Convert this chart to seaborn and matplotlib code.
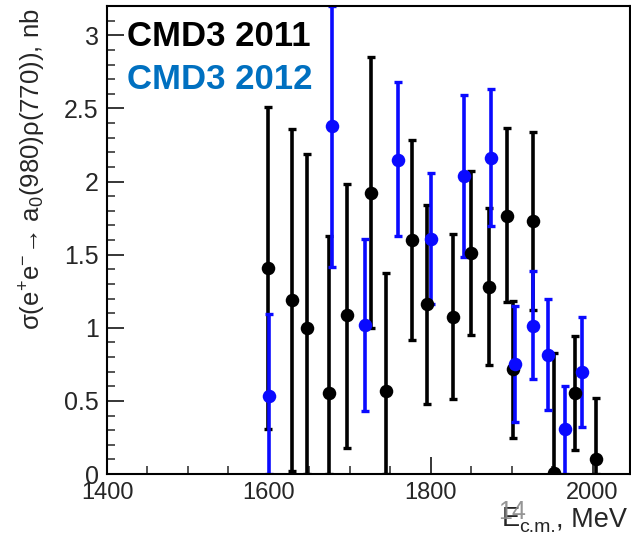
import numpy as np
import pandas as pd
import seaborn as sns
import matplotlib
matplotlib.use("Agg")
import matplotlib.pyplot as plt
from matplotlib.ticker import MultipleLocator

# ---------------- data ----------------
e2011 = [1599, 1629, 1647, 1674, 1697, 1726, 1745, 1777, 1795, 1828, 1850,
         1872, 1894, 1902, 1927, 1953, 1978, 2004]
s2011 = [1.41, 1.19, 1.00, 0.555, 1.086, 1.924, 0.567, 1.60, 1.16, 1.075, 1.51,
         1.28, 1.765, 0.715, 1.73, 0.005, 0.551, 0.102]
hi2011 = [2.51, 2.36, 2.19, 1.63, 1.985, 2.85, 1.375, 2.286, 1.84, 1.644, 2.07,
          1.82, 2.365, 1.184, 2.34, 0.83, 0.943, 0.52]
lo2011 = [0.31, 0.02, 0.0, 0.0, 0.18, 1.0, 0.0, 0.915, 0.478, 0.51, 0.95,
          0.745, 1.173, 0.248, 1.12, 0.0, 0.164, 0.0]

e2012 = [1600, 1678, 1719, 1760, 1800, 1841, 1875, 1904, 1926, 1945, 1966, 1987]
s2012 = [0.535, 2.377, 1.022, 2.15, 1.61, 2.035, 2.163, 0.751, 1.013, 0.813, 0.305, 0.699]
hi2012 = [1.097, 3.2, 1.61, 2.68, 2.06, 2.59, 2.635, 1.148, 1.387, 1.195, 0.601, 1.075]
lo2012 = [0.0, 1.416, 0.432, 1.628, 1.16, 1.485, 1.696, 0.357, 0.649, 0.437, 0.0, 0.323]

series_labels = ["CMD3 2011", "CMD3 2012"]
xlabel_main, xlabel_sub, xlabel_unit = "E", "c.m.", ", MeV"
ylabel = r"σ(e$^{+}$e$^{-}$→ a$_{0}$(980)ρ(770)), nb"
page_no = "14"

# ---------------- style ----------------
sns.set_style("ticks")
plt.rcParams["font.family"] = ["Liberation Sans", "DejaVu Sans"]
plt.rcParams["mathtext.fontset"] = "custom"
plt.rcParams["mathtext.rm"] = "Liberation Sans"
plt.rcParams["mathtext.it"] = "Liberation Sans:italic"
plt.rcParams["mathtext.bf"] = "Liberation Sans:bold"

black = "#000000"
blue = "#0a0aff"
legend_blue = "#0070c0"

W, H = 631, 537
fig = plt.figure(figsize=(W / 100, H / 100), dpi=100)
ax = fig.add_axes([0.1696, 0.1173, 0.8284, 0.8715])

d11 = pd.DataFrame({"E": e2011, "s": s2011, "hi": hi2011, "lo": lo2011})
d12 = pd.DataFrame({"E": e2012, "s": s2012, "hi": hi2012, "lo": lo2012})

for d, col in [(d11, black), (d12, blue)]:
    yerr = np.vstack([d["s"] - d["lo"], d["hi"] - d["s"]])
    ax.errorbar(d["E"], d["s"], yerr=yerr, fmt="none", ecolor=col,
                elinewidth=2.6, capsize=2.8, capthick=2.4, zorder=2)
    sns.scatterplot(data=d, x="E", y="s", ax=ax, color=col, s=95,
                    edgecolor=col, linewidth=0, zorder=3, legend=False)

ax.set_xlim(1400, 2046)
ax.set_ylim(0, 3.2)
ax.xaxis.set_major_locator(MultipleLocator(200))
ax.xaxis.set_minor_locator(MultipleLocator(50))
ax.yaxis.set_major_locator(MultipleLocator(0.5))
ax.yaxis.set_minor_locator(MultipleLocator(0.1))
ax.yaxis.set_major_formatter(matplotlib.ticker.FuncFormatter(
    lambda v, p: f"{v:g}"))

ax.tick_params(which="major", direction="in", length=12, width=1.3, top=False, right=False)
ax.tick_params(which="minor", direction="in", length=6, width=1.1, top=False, right=False)
ax.tick_params(axis="x", which="major", labelsize=17, pad=6)
ax.tick_params(axis="y", which="major", labelsize=18, pad=6)
for sp in ax.spines.values():
    sp.set_visible(True)
    sp.set_linewidth(1.5)
    sp.set_color("black")

ax.set_xlabel("")
ax.set_ylabel("")

# legend as coloured text
ax.text(0.038, 0.915, series_labels[0], transform=ax.transAxes, fontsize=25,
        fontweight="bold", color=black, va="baseline", ha="left")
ax.text(0.038, 0.822, series_labels[1], transform=ax.transAxes, fontsize=25,
        fontweight="bold", color=legend_blue, va="baseline", ha="left")

# x axis title, ROOT style (right end), built from pieces
fig.canvas.draw()
renderer = fig.canvas.get_renderer()
base = 1 - 526 / H
t_unit = fig.text(627 / W, base, xlabel_unit, fontsize=19.5, ha="right", va="baseline")
left = t_unit.get_window_extent(renderer).x0
t_sub = fig.text(left / W, base - 6 / H, xlabel_sub, fontsize=14, ha="right", va="baseline")
left = t_sub.get_window_extent(renderer).x0
fig.text((left + 0.5) / W, base, xlabel_main, fontsize=19.5, ha="right", va="baseline")

# y axis title at top end
fig.text(33 / W, 1 - 8 / H, ylabel, fontsize=18.5, rotation=90,
         ha="center", va="top")
fig.text(512 / W, 1 - 519 / H, page_no, fontsize=18, color="#8a8a8a",
         ha="center", va="baseline", alpha=0.9)

fig.savefig("out.png", dpi=100)
